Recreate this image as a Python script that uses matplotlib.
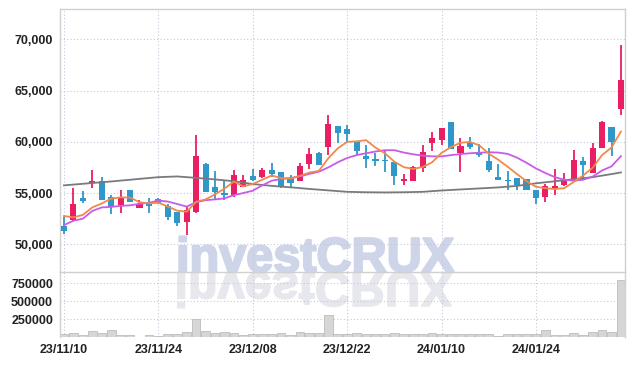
import numpy as np
import matplotlib
matplotlib.use('Agg')
import matplotlib.pyplot as plt
import matplotlib.patheffects as pe
from matplotlib.textpath import TextPath
from matplotlib.patches import PathPatch
from matplotlib.font_manager import FontProperties
from matplotlib.transforms import Affine2D, IdentityTransform
from matplotlib.ticker import FuncFormatter

plt.rcParams['font.family'] = ['Liberation Sans', 'DejaVu Sans']

# daily candles, 23/11/10 .. 24/02/06
opens = [51800, 52350, 54550, 56000, 56200, 54600, 53850, 55300, 53500, 54000,
         54400, 53700, 53150, 52150, 53200, 57850, 55600, 55050, 54850, 55550,
         56700, 56600, 57200, 57100, 56500, 56150, 57850, 58950, 59500, 61500,
         61250, 60000, 58650, 58300, 58200, 58000, 56150, 56200, 57450, 59850,
         60200, 61900, 58950, 59900, 58900, 58150, 56550, 56300, 56450, 56400,
         55300, 54600, 55400, 55750, 56150, 58150, 57000, 59350, 61400, 63150]
highs = [52650, 55500, 55200, 57250, 56550, 54800, 55250, 55300, 54350, 54500,
         54500, 53900, 53150, 53700, 60700, 57900, 57150, 56250, 57250, 56800,
         57350, 57450, 57950, 57100, 56800, 57950, 59400, 59000, 62650, 61500,
         61650, 60000, 59700, 58900, 59150, 58000, 56900, 57650, 59700, 60950,
         61300, 61900, 60350, 60450, 59800, 59400, 57850, 57150, 56450, 56400,
         55300, 55900, 57350, 57000, 59200, 58550, 59900, 62050, 61400, 69450]
lows = [51000, 52250, 54000, 55500, 54300, 52950, 53100, 54100, 53500, 53050,
        53950, 52400, 51800, 50900, 53050, 55150, 54350, 54300, 54600, 55550,
        56150, 56500, 56600, 55500, 55600, 56150, 57350, 57700, 58750, 59900,
        59900, 58700, 57450, 57600, 57100, 55800, 55800, 56200, 57100, 59100,
        59700, 59250, 57100, 59250, 58500, 57100, 56300, 55300, 55250, 55250,
        53900, 54100, 54850, 55650, 56150, 56450, 57000, 59350, 58600, 62600]
closes = [51250, 53950, 54200, 56200, 54300, 53650, 54550, 54100, 53950, 53700,
          54000, 52700, 52050, 53350, 58650, 55150, 55150, 54850, 56800, 56300,
          56300, 57250, 56900, 55600, 56000, 57650, 58850, 57700, 61750, 60850,
          60800, 59100, 58300, 58100, 58100, 56700, 56400, 57500, 59000, 60400,
          61300, 59250, 59550, 59450, 58700, 57250, 56300, 56150, 55800, 55250,
          54550, 55650, 55700, 56250, 58250, 57750, 59350, 61900, 59950, 66050]
volumes = [46000, 56000, 28000, 88000, 56000, 97000, 32000, 28000, 5000, 28000,
           19000, 46000, 46000, 74000, 255000, 83000, 60000, 74000, 60000, 32000,
           46000, 37000, 46000, 60000, 32000, 74000, 60000, 60000, 300000, 46000,
           46000, 60000, 46000, 46000, 46000, 60000, 46000, 46000, 46000, 60000,
           46000, 46000, 46000, 37000, 46000, 46000, 19000, 46000, 37000, 37000,
           37000, 97000, 32000, 32000, 56000, 32000, 70000, 97000, 70000, 790000]

# moving average lines
ma5 = [52760, 52630, 52870, 53600, 53980, 54460, 54580, 54560, 54110, 53990,
       54060, 53690, 53280, 53180, 54150, 54380, 54870, 55430, 56120, 55650,
       55880, 56300, 56710, 56470, 56410, 56680, 57000, 57160, 58390, 59360,
       59990, 60040, 60160, 59430, 58880, 58060, 57520, 57360, 57540, 58000,
       58920, 59490, 59900, 59990, 59650, 58840, 58250, 57570, 56840, 56150,
       55610, 55480, 55390, 55480, 56080, 56720, 57460, 58700, 59440, 61000]
ma10 = [51870, 52300, 52500, 53250, 53600, 53650, 53750, 53800, 53950, 54050,
        54270, 54170, 53930, 53680, 54100, 54300, 54380, 54480, 54800, 55000,
        55230, 55750, 56200, 56370, 56460, 56620, 56870, 57080, 57500, 58000,
        58420, 58700, 58880, 59050, 59180, 59180, 58950, 58780, 58650, 58580,
        58570, 58700, 58800, 58880, 58930, 58980, 58950, 58820, 58450, 57950,
        57400, 56950, 56550, 56300, 56200, 56300, 56600, 57200, 57600, 58600]
ma_long_idx = [0, 5, 10, 12, 14, 16, 18, 20, 22, 24, 26, 28, 30, 32, 34, 36, 38,
               40, 42, 44, 46, 48, 50, 52, 54, 56, 58, 59]
ma_long = [55750, 56130, 56550, 56620, 56480, 56330, 56150, 55880, 55700, 55560,
           55400, 55260, 55120, 55080, 55060, 55080, 55120, 55250, 55350, 55450,
           55550, 55700, 55950, 56150, 56350, 56550, 56850, 57010]

tick_idx = [0, 10, 20, 30, 40, 50]
tick_labels = ['23/11/10', '23/11/24', '23/12/08', '23/12/22', '24/01/10', '24/01/24']

UP = '#e91e63'
DOWN = '#3097c9'
GRID = '#c5c8dc'
SPINE = '#d0d0d0'
WM = '#cfd5e9'

x = np.arange(len(closes))
o = np.array(opens)
c = np.array(closes)
up = c >= o
cols = np.where(up, UP, DOWN)

fig = plt.figure(figsize=(6.34, 3.66), dpi=100)
ax = fig.add_axes([60/634, 94/366, 565/634, 263/366])
axv = fig.add_axes([60/634, 29/366, 565/634, 65/366], sharex=ax)

# watermark + reflection
fig.text(315/634, 94.3/366, 'investCRUX', ha='center', va='baseline',
         fontsize=35, fontweight='bold', color=WM, family='Liberation Sans',
         zorder=-2, path_effects=[pe.withStroke(linewidth=1.6, foreground=WM)])
fp = FontProperties(family='Liberation Sans', weight='bold')
tp = TextPath((0, 0), 'investCRUX', size=35 * 100 / 72, prop=fp)
ext = tp.get_extents()
x0 = 315 - (ext.x0 + ext.x1) / 2
refl = PathPatch(tp, transform=Affine2D().scale(1, -1).translate(x0, 93.5) + IdentityTransform(),
                 facecolor='#e7e7ee', edgecolor='#e7e7ee', linewidth=1.2, zorder=-2)
fig.patches.append(refl)

for a in (ax, axv):
    a.set_facecolor('none')
    a.set_axisbelow(True)
    a.grid(True, color=GRID, linestyle=(0, (1, 2)), linewidth=0.8)
    a.tick_params(length=0, pad=5, labelsize=9, labelcolor='#222222')
    for lab in a.get_xticklabels() + a.get_yticklabels():
        lab.set_fontweight('bold')
    for s in a.spines.values():
        s.set_color(SPINE)
        s.set_linewidth(1)

# candles
ax.vlines(x, lows, highs, colors=cols, linewidth=1.3, zorder=2)
body = np.maximum(np.abs(c - o), 80)
ax.bar(x, body, bottom=np.minimum(o, c), width=0.65, color=cols, zorder=3)

ax.plot(ma_long_idx, ma_long, color='#7a7a7a', linewidth=1.3, zorder=4)
ax.plot(x, ma10, color='#c95be8', linewidth=1.3, zorder=4)
ax.plot(x, ma5, color='#ef8a4c', linewidth=1.3, zorder=5)

ax.set_ylim(47300, 72950)
ax.set_yticks([50000, 55000, 60000, 65000, 70000])
ax.yaxis.set_major_formatter(FuncFormatter(lambda v, p: f'{v:,.0f}'))
ax.set_xlim(-0.42, 59.43)
ax.set_xticks(tick_idx)
ax.tick_params(axis='x', labelbottom=False)

# volume
axv.bar(x, volumes, width=0.92, color='#d6d6d6', edgecolor='#bdbdbd', linewidth=0.6, zorder=2)
axv.set_ylim(0, 903000)
axv.set_yticks([250000, 500000, 750000])
axv.yaxis.set_major_formatter(FuncFormatter(lambda v, p: f'{v:.0f}'))
axv.set_xticks(tick_idx)
axv.set_xticklabels(tick_labels)
axv.spines['bottom'].set_visible(False)
axv.spines['top'].set_visible(False)

for a in (ax, axv):
    for lab in a.get_xticklabels() + a.get_yticklabels():
        lab.set_fontweight('bold')

fig.savefig('out.png', dpi=100)
